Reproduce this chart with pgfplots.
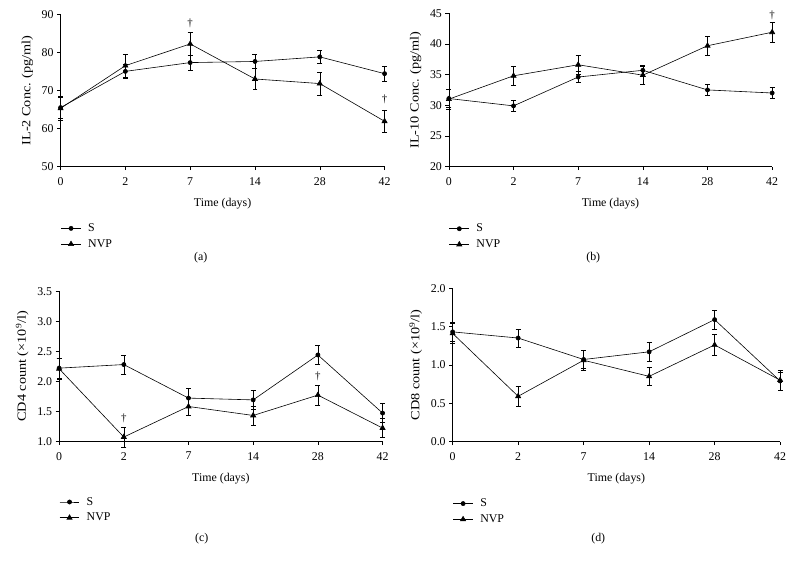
\documentclass[border=0pt]{standalone}
\usepackage{pgfplots}
\pgfplotsset{compat=1.18}
\usepackage{fontspec}
\setmainfont{Liberation Serif}
\begin{document}
\newcommand{\yl}[1]{\scalebox{1.2}[1.05]{#1}}
\pgfplotsset{
  panel/.style={
    scale only axis, anchor=south west, clip=false,
    xmin=0, xmax=5, xtick={0,...,5}, xticklabels={0,2,7,14,28,42},
    axis x line*=bottom, axis y line*=left,
    tick align=outside, major tick length=3.5bp,
    tick style={black, line width=0.5pt},
    axis line style={black, line width=0.6pt},
    /pgf/number format/assume math mode=true,
    tick label style={font=\fontsize{12}{14}\selectfont},
    xticklabel style={yshift=-4bp},
    label style={font=\fontsize{12}{14}\selectfont},
    xlabel={Time (days)},
    xlabel style={yshift=-6bp},
    ylabel style={yshift=2bp},
    legend style={at={(0,-0.36)}, anchor=north west, draw=none, fill=none,
      inner sep=0pt, font=\fontsize{12}{14}\selectfont, row sep=2.5bp,
      column sep=5bp, legend cell align=left},
    legend image code/.code={\draw[mark repeat=2,mark phase=2] plot coordinates {(0bp,0bp) (10bp,0bp) (20bp,0bp)};},
    every axis plot/.append style={black, line width=0.6pt},
    error bars/y dir=both, error bars/y explicit,
    error bars/error mark options={black, line width=0.5pt, mark size=2.5bp, rotate=90},
    error bars/error bar style={black, line width=0.5pt},
  },
  sser/.style={mark=*, mark size=2.1bp},
  nser/.style={mark=triangle*, mark size=3bp},
}
\begin{tikzpicture}[x=1bp,y=1bp]
\useasboundingbox (0,0) rectangle (794,569);
% (a)
\begin{axis}[panel, at={(56bp,401.3bp)}, width=326bp, height=153.4bp,
  ymin=50, ymax=90, ytick={50,60,...,90}, ylabel={\yl{IL-2 Conc. (pg/ml)}}]
\addplot[sser] coordinates {(0,65.5)+-(0,2.8) (1,75.0)+-(0,1.9) (2,77.3)+-(0,2.0) (3,77.6)+-(0,1.9) (4,78.8)+-(0,1.8) (5,74.4)+-(0,1.9)};
\addlegendentry{S}
\addplot[nser] coordinates {(0,65.3)+-(0,3.1) (1,76.5)+-(0,3.0) (2,82.2)+-(0,3.0) (3,73.0)+-(0,2.8) (4,71.8)+-(0,3.0) (5,61.9)+-(0,3.0)};
\addlegendentry{NVP}
\node[font=\fontsize{11}{13}\selectfont] at (axis cs:2,87.6) {†};
\node[font=\fontsize{11}{13}\selectfont] at (axis cs:5,67.6) {†};
\end{axis}
% (b)
\begin{axis}[panel, at={(446.7bp,401.3bp)}, width=325.3bp, height=154.4bp,
  ymin=20, ymax=45, ytick={20,25,...,45}, ylabel={\yl{IL-10 Conc. (pg/ml)}}]
\addplot[sser] coordinates {(0,31.1)+-(0,1.5) (1,29.9)+-(0,0.9) (2,34.6)+-(0,0.9) (3,35.7)+-(0,0.9) (4,32.5)+-(0,0.9) (5,32.0)+-(0,0.9)};
\addlegendentry{S}
\addplot[nser] coordinates {(0,31.0)+-(0,1.6) (1,34.8)+-(0,1.6) (2,36.6)+-(0,1.6) (3,34.9)+-(0,1.5) (4,39.7)+-(0,1.6) (5,41.9)+-(0,1.6)};
\addlegendentry{NVP}
\node[font=\fontsize{11}{13}\selectfont] at (axis cs:5,44.6) {†};
\end{axis}
% (c)
\begin{axis}[panel, at={(54.5bp,125bp)}, width=325.5bp, height=150.7bp,
  ymin=1, ymax=3.5, ytick={1,1.5,...,3.5},
  yticklabel style={/pgf/number format/.cd, fixed, fixed zerofill, precision=1},
  ylabel={\yl{CD4 count (×10\textsuperscript{9}/l)}}]
\addplot[sser] coordinates {(0,2.22)+-(0,0.17) (1,2.28)+-(0,0.16) (2,1.72)+-(0,0.16) (3,1.69)+-(0,0.16) (4,2.44)+-(0,0.16) (5,1.47)+-(0,0.16)};
\addlegendentry{S}
\addplot[nser] coordinates {(0,2.21)+-(0,0.17) (1,1.07)+-(0,0.17) (2,1.58)+-(0,0.15) (3,1.43)+-(0,0.16) (4,1.77)+-(0,0.17) (5,1.22)+-(0,0.16)};
\addlegendentry{NVP}
\node[font=\fontsize{11}{13}\selectfont] at (axis cs:1,1.39) {†};
\node[font=\fontsize{11}{13}\selectfont] at (axis cs:4,2.09) {†};
\end{axis}
% (d)
\begin{axis}[panel, at={(450.5bp,124.7bp)}, width=329.5bp, height=154.3bp,
  ymin=0, ymax=2, ytick={0,0.5,...,2},
  yticklabel style={/pgf/number format/.cd, fixed, fixed zerofill, precision=1},
  ylabel={\yl{CD8 count (×10\textsuperscript{9}/l)}}]
\addplot[sser] coordinates {(0,1.43)+-(0,0.12) (1,1.35)+-(0,0.12) (2,1.07)+-(0,0.12) (3,1.17)+-(0,0.12) (4,1.59)+-(0,0.12) (5,0.79)+-(0,0.12)};
\addlegendentry{S}
\addplot[nser] coordinates {(0,1.41)+-(0,0.13) (1,0.59)+-(0,0.13) (2,1.06)+-(0,0.13) (3,0.85)+-(0,0.12) (4,1.26)+-(0,0.14) (5,0.80)+-(0,0.13)};
\addlegendentry{NVP}
\end{axis}
\node[font=\fontsize{12}{14}\selectfont] at (197,310) {(a)};
\node[font=\fontsize{12}{14}\selectfont] at (592,310) {(b)};
\node[font=\fontsize{12}{14}\selectfont] at (198,27) {(c)};
\node[font=\fontsize{12}{14}\selectfont] at (597,27) {(d)};
\end{tikzpicture}
\end{document}
